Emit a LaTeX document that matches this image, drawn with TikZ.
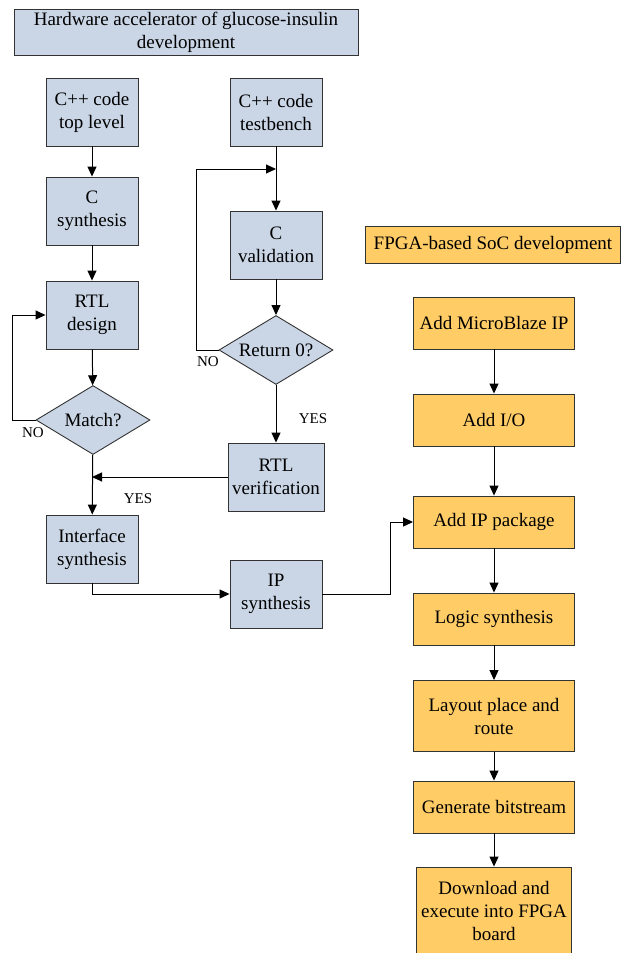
\documentclass[tikz,border=0pt]{standalone}
\usepackage{fontspec}
\setmainfont{Liberation Serif}
\newfontfamily\boxfont{Liberation Serif}
\usetikzlibrary{shapes.geometric,arrows.meta}
\definecolor{hwblue}{RGB}{202,214,230}
\definecolor{socorange}{RGB}{255,204,102}
\tikzset{
  hwbox/.style={draw=black!80, line width=0.9pt, fill=hwblue, align=center, inner sep=0pt,
    minimum width=92pt, minimum height=68pt, font=\boxfont\fontsize{19}{23}\selectfont},
  socbox/.style={hwbox, fill=socorange, minimum width=161pt, minimum height=52pt},
  decision/.style={hwbox, diamond, aspect=1.65, minimum width=114pt, minimum height=69pt},
  tag/.style={font=\boxfont\fontsize{15}{18}\selectfont, inner sep=0pt},
  flow/.style={draw, line width=1pt, -{Triangle[length=10pt,width=9pt]}},
}
\begin{document}
\begin{tikzpicture}[x=1pt,y=-1pt]
\useasboundingbox (0,0) rectangle (625,953);
% hardware accelerator
\node[hwbox, minimum width=344pt, minimum height=46pt] (0) at (186,32) {Hardware accelerator of glucose-insulin\\development};
\node[hwbox] (1) at (92,112) {C++ code\\top level};
\node[hwbox] (2) at (92,211) {C\\synthesis};
\node[hwbox] (3) at (92,315) {RTL\\design};
\node[decision] (4) at (93,420) {Match?};
\node[hwbox] (5) at (92,549) {Interface\\synthesis};
\node[hwbox] (6) at (276,112) {C++ code\\testbench};
\node[hwbox] (7) at (276,245) {C\\validation};
\node[decision] (8) at (276,350) {Return 0?};
\node[hwbox, minimum width=96pt] (9) at (276,477) {RTL\\verification};
\node[hwbox] (10) at (276,594) {IP\\synthesis};
\coordinate (j1) at (276,169);
\coordinate (j2) at (92,477);

% SoC development
\node[socbox, minimum width=255pt, minimum height=37pt] (11) at (493,245) {FPGA-based SoC development};
\node[socbox] (12) at (494,323) {Add MicroBlaze IP};
\node[socbox] (13) at (494,420) {Add I/O};
\node[socbox] (14) at (494,522) {Add IP package};
\node[socbox] (15) at (494,619) {Logic synthesis};
\node[socbox, minimum height=71pt] (16) at (494,716) {Layout place and\\route};
\node[socbox] (17) at (494,807) {Generate bitstream};
\node[socbox, minimum width=155pt, minimum height=88pt] (18) at (494,911) {Download and\\execute into FPGA\\board};

\node[tag] (n1) at (33,433) {NO};
\node[tag] (n2) at (208,362) {NO};
\node[tag] (y1) at (313,419) {YES};
\node[tag] (y2) at (138,499) {YES};

\path[flow] (1) -- (2);
\path[flow] (2) -- (3);
\path[flow] (3) -- (4);
\path[flow] (4) -- (5);
\path[flow] (4.west) -- ++(-23,0) |- (3.west);
\path[flow] (6) -- (7);
\path[flow] (8.west) -- ++(-22,0) |- (j1);
\path[flow] (7) -- (8);
\path[flow] (8) -- (9);
\path[flow] (9.west) -- (j2);
\path[flow] (5.south) |- (10.west);
\path[flow] (10.east) -- ++(68,0) |- (14.west);
\path[flow] (12) -- (13);
\path[flow] (13) -- (14);
\path[flow] (14) -- (15);
\path[flow] (15) -- (16);
\path[flow] (16) -- (17);
\path[flow] (17) -- (18);
\end{tikzpicture}
\end{document}
